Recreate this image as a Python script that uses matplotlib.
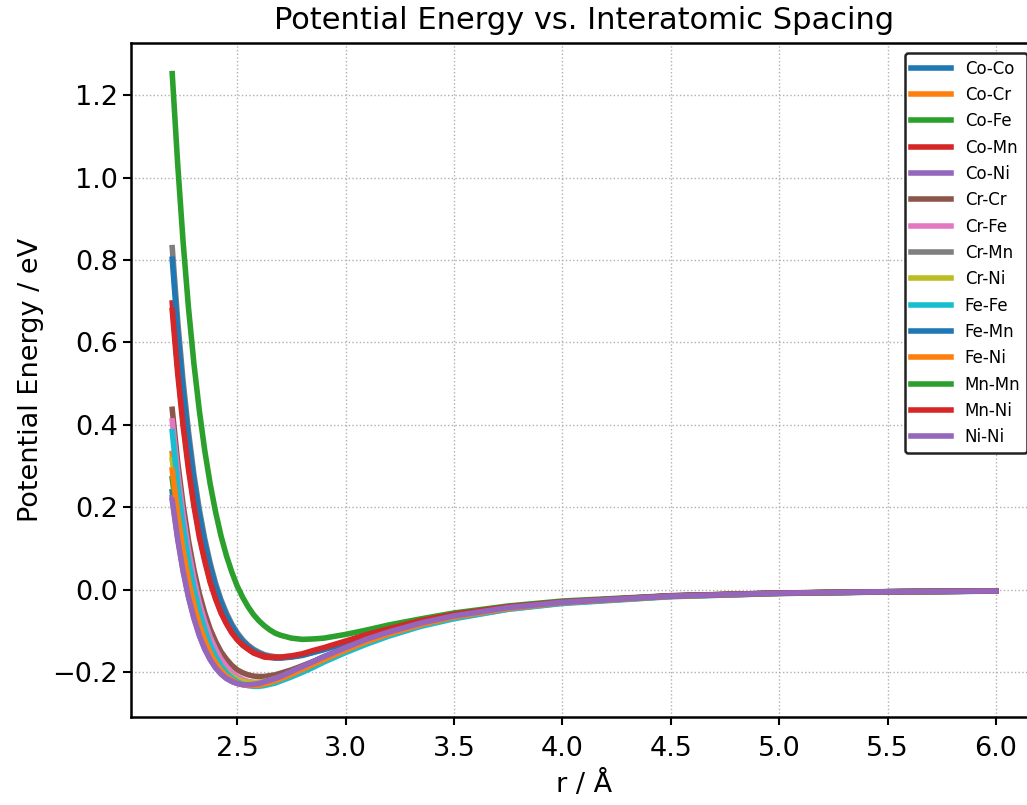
import matplotlib
matplotlib.use('Agg')
import matplotlib.pyplot as plt

# interatomic spacing (angstrom), shared by every pair
r = [2.20, 2.225, 2.25, 2.275, 2.30, 2.325, 2.35, 2.375, 2.40, 2.425, 2.45, 2.475,
     2.50, 2.525, 2.55, 2.575, 2.60, 2.625, 2.65, 2.675, 2.70, 2.75, 2.80, 2.85,
     2.90, 3.00, 3.10, 3.20, 3.35, 3.50, 3.75, 4.00, 4.50, 5.00, 5.50, 6.00]

# potential energy (eV)
co_co = [0.238, 0.142, 0.061, -0.005, -0.058, -0.101, -0.135, -0.162, -0.183, -0.199, -0.210, -0.219,
         -0.224, -0.227, -0.228, -0.227, -0.225, -0.222, -0.218, -0.214, -0.209, -0.198, -0.186, -0.174,
         -0.162, -0.140, -0.120, -0.102, -0.080, -0.063, -0.043, -0.030, -0.0149, -0.0080, -0.0045, -0.0027]
co_cr = [0.331, 0.217, 0.124, 0.048, -0.015, -0.065, -0.106, -0.139, -0.164, -0.184, -0.199, -0.211,
         -0.218, -0.223, -0.226, -0.227, -0.226, -0.224, -0.221, -0.217, -0.213, -0.203, -0.191, -0.180,
         -0.168, -0.145, -0.125, -0.106, -0.084, -0.066, -0.045, -0.031, -0.0156, -0.0084, -0.0048, -0.0028]
co_fe = [0.270, 0.168, 0.083, 0.013, -0.044, -0.090, -0.126, -0.155, -0.178, -0.196, -0.208, -0.218,
         -0.224, -0.228, -0.229, -0.229, -0.227, -0.225, -0.221, -0.217, -0.212, -0.201, -0.189, -0.178,
         -0.166, -0.143, -0.122, -0.104, -0.082, -0.065, -0.044, -0.030, -0.0153, -0.0082, -0.0046, -0.0028]
co_mn = [0.696, 0.540, 0.411, 0.302, 0.213, 0.136, 0.076, 0.023, -0.018, -0.053, -0.080, -0.103,
         -0.120, -0.134, -0.144, -0.153, -0.158, -0.163, -0.164, -0.165, -0.165, -0.162, -0.157, -0.150,
         -0.142, -0.126, -0.109, -0.095, -0.075, -0.060, -0.041, -0.029, -0.0145, -0.0078, -0.0044, -0.0026]
co_ni = [0.224, 0.128, 0.049, -0.015, -0.067, -0.108, -0.142, -0.168, -0.188, -0.203, -0.214, -0.222,
         -0.227, -0.229, -0.230, -0.229, -0.228, -0.224, -0.220, -0.215, -0.211, -0.199, -0.187, -0.175,
         -0.163, -0.141, -0.120, -0.103, -0.080, -0.063, -0.043, -0.030, -0.0150, -0.0079, -0.0045, -0.0027]
cr_cr = [0.438, 0.311, 0.207, 0.120, 0.049, -0.009, -0.056, -0.095, -0.125, -0.150, -0.168, -0.183,
         -0.194, -0.201, -0.206, -0.209, -0.210, -0.210, -0.208, -0.206, -0.202, -0.194, -0.184, -0.174,
         -0.163, -0.141, -0.122, -0.104, -0.083, -0.065, -0.045, -0.031, -0.0155, -0.0083, -0.0047, -0.0028]
cr_fe = [0.410, 0.286, 0.182, 0.097, 0.027, -0.031, -0.076, -0.114, -0.144, -0.168, -0.186, -0.200,
         -0.210, -0.217, -0.222, -0.224, -0.224, -0.223, -0.221, -0.218, -0.214, -0.205, -0.194, -0.183,
         -0.171, -0.149, -0.128, -0.109, -0.086, -0.068, -0.047, -0.032, -0.0160, -0.0087, -0.0049, -0.0029]
cr_mn = [0.830, 0.654, 0.507, 0.384, 0.280, 0.195, 0.124, 0.065, 0.016, -0.024, -0.056, -0.083,
         -0.104, -0.121, -0.134, -0.144, -0.151, -0.157, -0.160, -0.162, -0.163, -0.161, -0.158, -0.151,
         -0.144, -0.128, -0.112, -0.097, -0.078, -0.062, -0.043, -0.030, -0.0150, -0.0080, -0.0046, -0.0027]
cr_ni = [0.316, 0.207, 0.116, 0.042, -0.019, -0.068, -0.108, -0.140, -0.165, -0.184, -0.199, -0.210,
         -0.217, -0.222, -0.224, -0.225, -0.224, -0.222, -0.219, -0.215, -0.211, -0.200, -0.189, -0.178,
         -0.166, -0.143, -0.123, -0.105, -0.083, -0.065, -0.044, -0.031, -0.0154, -0.0083, -0.0047, -0.0028]
fe_fe = [0.384, 0.256, 0.155, 0.072, 0.004, -0.051, -0.096, -0.133, -0.161, -0.184, -0.201, -0.214,
         -0.223, -0.229, -0.232, -0.234, -0.234, -0.232, -0.229, -0.226, -0.221, -0.211, -0.200, -0.188,
         -0.175, -0.152, -0.131, -0.112, -0.088, -0.070, -0.047, -0.033, -0.0165, -0.0088, -0.0051, -0.0031]
fe_mn = [0.802, 0.629, 0.486, 0.366, 0.266, 0.183, 0.114, 0.057, 0.009, -0.030, -0.062, -0.087,
         -0.108, -0.125, -0.137, -0.147, -0.154, -0.159, -0.163, -0.165, -0.165, -0.163, -0.159, -0.152,
         -0.145, -0.129, -0.113, -0.098, -0.078, -0.062, -0.043, -0.030, -0.0150, -0.0081, -0.0046, -0.0027]
fe_ni = [0.291, 0.185, 0.096, 0.023, -0.036, -0.084, -0.122, -0.153, -0.177, -0.195, -0.209, -0.219,
         -0.226, -0.230, -0.232, -0.232, -0.231, -0.228, -0.225, -0.220, -0.216, -0.205, -0.193, -0.181,
         -0.169, -0.146, -0.125, -0.107, -0.084, -0.066, -0.045, -0.031, -0.0156, -0.0084, -0.0047, -0.0028]
mn_mn = [1.252, 1.034, 0.845, 0.684, 0.549, 0.435, 0.338, 0.257, 0.189, 0.131, 0.083, 0.043,
         0.009, -0.018, -0.041, -0.060, -0.075, -0.087, -0.097, -0.105, -0.110, -0.117, -0.120, -0.119,
         -0.117, -0.108, -0.097, -0.085, -0.070, -0.056, -0.039, -0.027, -0.0140, -0.0075, -0.0043, -0.0025]
mn_ni = [0.678, 0.526, 0.398, 0.292, 0.204, 0.128, 0.070, 0.018, -0.022, -0.056, -0.082, -0.104,
         -0.121, -0.134, -0.143, -0.152, -0.157, -0.161, -0.163, -0.163, -0.163, -0.160, -0.155, -0.147,
         -0.140, -0.124, -0.108, -0.094, -0.074, -0.059, -0.041, -0.029, -0.0144, -0.0077, -0.0044, -0.0026]
ni_ni = [0.217, 0.123, 0.045, -0.018, -0.069, -0.111, -0.144, -0.169, -0.189, -0.204, -0.215, -0.222,
         -0.227, -0.230, -0.230, -0.229, -0.227, -0.223, -0.219, -0.215, -0.210, -0.198, -0.186, -0.174,
         -0.162, -0.140, -0.119, -0.102, -0.080, -0.063, -0.043, -0.030, -0.0150, -0.0079, -0.0045, -0.0027]

pairs = ['Co-Co', 'Co-Cr', 'Co-Fe', 'Co-Mn', 'Co-Ni', 'Cr-Cr', 'Cr-Fe', 'Cr-Mn',
         'Cr-Ni', 'Fe-Fe', 'Fe-Mn', 'Fe-Ni', 'Mn-Mn', 'Mn-Ni', 'Ni-Ni']
energies = [co_co, co_cr, co_fe, co_mn, co_ni, cr_cr, cr_fe, cr_mn,
            cr_ni, fe_fe, fe_mn, fe_ni, mn_mn, mn_ni, ni_ni]

plt.rcParams['font.family'] = ['DejaVu Sans']

fig = plt.figure(figsize=(10.27, 8.05), dpi=100)
# the right spine falls just outside the picture in the reference
ax = fig.add_axes([0.1276, 0.1093, 0.8822, 0.8373])

for name, e in zip(pairs, energies):
    ax.plot(r, e, lw=4, label=name, solid_joinstyle='round')

ax.grid(True, ls=':', lw=1, color='#b0b0b0')
ax.set_axisbelow(True)
for side in ['left', 'bottom', 'top', 'right']:
    ax.spines[side].set_linewidth(1.8)
ax.tick_params(direction='out', length=6, width=1.5, labelsize=19.5)
ax.tick_params(axis='x', pad=8)
ax.set_xticks([2.5, 3.0, 3.5, 4.0, 4.5, 5.0, 5.5, 6.0])

ax.set_title('Potential Energy vs. Interatomic Spacing', fontsize=22, pad=10)
ax.set_xlabel('r / Å', fontsize=19.5, labelpad=6)
ax.set_ylabel('Potential Energy / eV', fontsize=19.5, labelpad=6)

leg = ax.legend(loc='upper right', fontsize=12, borderaxespad=0.6,
                handlelength=2.4, fancybox=True, framealpha=1)
leg.get_frame().set_edgecolor('#222222')
leg.get_frame().set_linewidth(1.8)

fig.savefig('out.png', dpi=100)
